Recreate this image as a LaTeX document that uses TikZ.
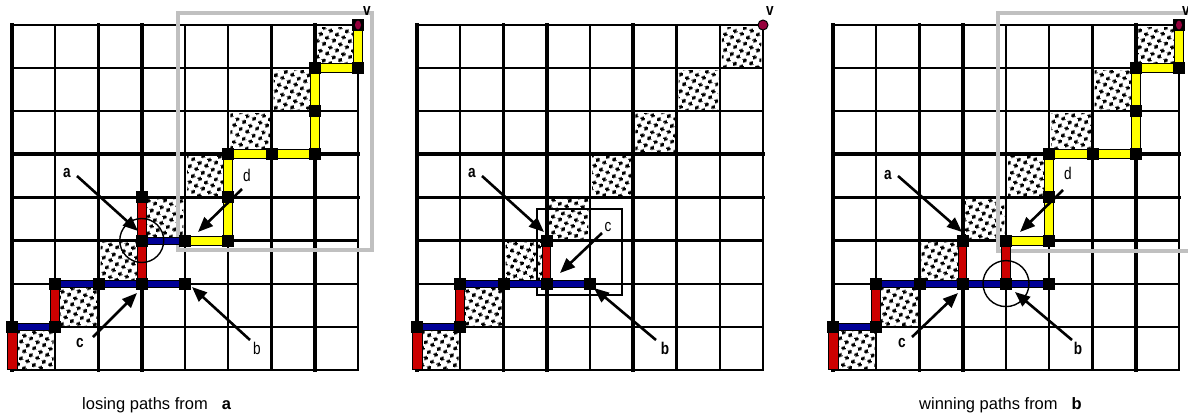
\documentclass[tikz,border=0pt]{standalone}
\usepackage{fontspec}
\setmainfont{Liberation Sans}
\usepackage{graphicx}
\usetikzlibrary{calc,arrows.meta,patterns.meta}

\definecolor{pred}{RGB}{204,0,0}
\definecolor{pblue}{RGB}{0,0,150}
\definecolor{pyel}{RGB}{255,255,0}
\definecolor{pgray}{RGB}{192,192,192}
\definecolor{pdot}{RGB}{150,0,60}

\tikzdeclarepattern{
  name=sqdots,
  type=uncolored,
  bounding box={(0pt,0pt) and (10pt,10pt)},
  tile size={(10pt,10pt)},
  tile transformation={rotate=18},
  code={
    \pgfpathrectangle{\pgfpoint{0.5pt}{0.5pt}}{\pgfpoint{3.8pt}{3.8pt}}
    \pgfpathrectangle{\pgfpoint{5.5pt}{5.5pt}}{\pgfpoint{3.8pt}{3.8pt}}
    \pgfusepath{fill}
  }
}

\tikzset{
  gl/.style={line width=2.2pt, line cap=rect},
  glt/.style={line width=3.8pt, line cap=rect},
  graybox/.style={draw=pgray, line width=4.5pt},
  arr/.style={line width=2.6pt, -{Triangle[length=15pt,width=12pt]}},
  lab/.style={font=\fontsize{17}{17}\selectfont, inner sep=0pt},
  labb/.style={font=\fontsize{17}{17}\selectfont\bfseries, inner sep=0pt},
  ring/.style={draw, line width=1.4pt},
  captext/.style={font=\fontsize{16.5}{17}\selectfont, inner sep=0pt, anchor=base west},
}

\newcommand\drawgrid[4]{%
  \foreach \c in {0,...,8}{\foreach \r in {0,...,8}{%
    \coordinate (#1-\c-\r) at ({#2+\c*43.25},{25+\r*43.1});}}
  \foreach \c in {0,...,7}{\pgfmathtruncatemacro\rr{7-\c}%
    \fill[pattern=sqdots] ($(#1-\c-\rr)+(2,2)$) rectangle ++(39.5,39.5);}
  \foreach \c in {0,...,8}{\draw[gl] (#1-\c-0) -- (#1-\c-8);}
  \foreach \r in {0,...,8}{\draw[gl] (#1-0-\r) -- (#1-8-\r);}
  \foreach \c in {#3}{\draw[glt] (#1-\c-0) -- (#1-\c-8);}
  \foreach \r in {#4}{\draw[glt] (#1-0-\r) -- (#1-8-\r);}
}
\newcommand\vseg[4]{\filldraw[fill=#3,draw=black,line width=0.9pt] ($(#1)+(-#4,0)$) rectangle ($(#2)+(#4,0)$);}
\newcommand\hseg[4]{\filldraw[fill=#3,draw=black,line width=0.9pt] ($(#1)+(0,-#4)$) rectangle ($(#2)+(0,#4)$);}
\newcommand\vsq[1]{\fill (#1) ++(-6,-6) rectangle ++(12,12);}

\begin{document}
\begin{tikzpicture}[x=1pt,y=-1pt]
\useasboundingbox (0,0) rectangle (1188,415);
\fill[white] (0,0) rectangle (1188,415);

% ---------- grids ----------
\drawgrid{g1}{12}{0,2,3,7}{3,4}
\drawgrid{g2}{417}{0,2,3,5}{3,4}
\drawgrid{g3}{833}{0,2,3,7}{3,4}

% ---------- gray boxes ----------
\draw[graybox] (178,13) rectangle (372,250);
\draw[graybox] (998,13) rectangle (1196,251);
\draw[line width=1.4pt] (537,209) rectangle (622,295);

% ---------- grid 1 paths ----------
\vseg{g1-0-7}{g1-0-8}{pred}{5}
\hseg{g1-0-7}{g1-1-7}{pblue}{3.5}
\vseg{g1-1-6}{g1-1-7}{pred}{4.5}
\hseg{g1-1-6}{g1-4-6}{pblue}{3.5}
\vseg{g1-3-4}{g1-3-6}{pred}{4.5}
\hseg{g1-3-5}{g1-4-5}{pblue}{3.5}
\vseg{g1-8-0}{g1-8-1}{pyel}{4.5}
\hseg{g1-7-1}{g1-8-1}{pyel}{4.5}
\vseg{g1-7-1}{g1-7-3}{pyel}{4.5}
\hseg{g1-5-3}{g1-7-3}{pyel}{4.5}
\vseg{g1-5-3}{g1-5-5}{pyel}{4.5}
\hseg{g1-4-5}{g1-5-5}{pyel}{4.5}
\foreach \p in {0-7,1-7,1-6,2-6,3-6,4-6,3-4,3-5,4-5,5-5,5-4,5-3,6-3,7-3,7-2,7-1,8-1,8-0}{\vsq{g1-\p}}
\fill[pdot] (g1-8-0) ellipse (3 and 4.5);

% ---------- grid 2 paths ----------
\vseg{g2-0-7}{g2-0-8}{pred}{5}
\hseg{g2-0-7}{g2-1-7}{pblue}{3.5}
\vseg{g2-1-6}{g2-1-7}{pred}{4.5}
\hseg{g2-1-6}{g2-4-6}{pblue}{3.5}
\vseg{g2-3-5}{g2-3-6}{pred}{4}
\foreach \p in {0-7,1-7,1-6,2-6,3-6,4-6,3-5}{\vsq{g2-\p}}
\filldraw[fill=pdot,draw=black,line width=1pt] (g2-8-0) circle (5);

% ---------- grid 3 paths ----------
\vseg{g3-0-7}{g3-0-8}{pred}{5}
\hseg{g3-0-7}{g3-1-7}{pblue}{3.5}
\vseg{g3-1-6}{g3-1-7}{pred}{4.5}
\hseg{g3-1-6}{g3-5-6}{pblue}{3.5}
\vseg{g3-3-5}{g3-3-6}{pred}{4}
\vseg{g3-4-5}{g3-4-6}{pred}{4.5}
\vseg{g3-8-0}{g3-8-1}{pyel}{4.5}
\hseg{g3-7-1}{g3-8-1}{pyel}{4.5}
\vseg{g3-7-1}{g3-7-3}{pyel}{4.5}
\hseg{g3-5-3}{g3-7-3}{pyel}{4.5}
\vseg{g3-5-3}{g3-5-5}{pyel}{4.5}
\hseg{g3-4-5}{g3-5-5}{pyel}{4.5}
\foreach \p in {0-7,1-7,1-6,2-6,3-6,4-6,5-6,3-5,4-5,5-5,5-4,5-3,6-3,7-3,7-2,7-1,8-1,8-0}{\vsq{g3-\p}}
\fill[pdot] (g3-8-0) ellipse (3 and 4.5);

% ---------- circles ----------
\draw[ring] (g1-3-5) circle (22);
\draw[ring] (g3-4-6) circle (23);

% ---------- labels ----------
\node[labb] (g1a) at (67,173) {\scalebox{0.8}[1]{a}};
\node[labb] (g1c) at (80,343) {\scalebox{0.8}[1]{c}};
\node[lab]  (g1b) at (257,348) {\scalebox{0.8}[1]{b}};
\node[lab]  (g1d) at (247,175) {\scalebox{0.8}[1]{d}};
\node[labb] (g1v) at (367,11) {\scalebox{0.8}[1]{v}};

\node[labb] (g2a) at (472,173) {\scalebox{0.8}[1]{a}};
\node[lab]  (g2c) at (608,227) {\scalebox{0.8}[1]{c}};
\node[labb] (g2b) at (665,348) {\scalebox{0.8}[1]{b}};
\node[labb] (g2v) at (770,11) {\scalebox{0.8}[1]{v}};

\node[labb] (g3a) at (888,175) {\scalebox{0.8}[1]{a}};
\node[labb] (g3c) at (902,343) {\scalebox{0.8}[1]{c}};
\node[labb] (g3b) at (1078,348) {\scalebox{0.8}[1]{b}};
\node[lab]  (g3d) at (1068,173) {\scalebox{0.8}[1]{d}};
\node[labb] (g3v) at (1186,11) {\scalebox{0.8}[1]{v}};

% ---------- arrow endpoints ----------
\coordinate (g1a-s) at (77,176);  \coordinate (g1a-t) at (138,231);
\coordinate (g1c-s) at (93,337);  \coordinate (g1c-t) at (137,293);
\coordinate (g1b-s) at (250,340); \coordinate (g1b-t) at (192,287);
\coordinate (g1d-s) at (242,189); \coordinate (g1d-t) at (198,232);
\coordinate (g2a-s) at (482,176); \coordinate (g2a-t) at (544,232);
\coordinate (g2c-s) at (602,233); \coordinate (g2c-t) at (560,273);
\coordinate (g2b-s) at (656,340); \coordinate (g2b-t) at (594,288);
\coordinate (g3a-s) at (898,176); \coordinate (g3a-t) at (962,232);
\coordinate (g3c-s) at (912,337); \coordinate (g3c-t) at (958,293);
\coordinate (g3b-s) at (1072,340);\coordinate (g3b-t) at (1015,292);
\coordinate (g3d-s) at (1063,190);\coordinate (g3d-t) at (1020,232);

\foreach \a in {g1a,g1c,g1b,g1d,g2a,g2c,g2b,g3a,g3c,g3b,g3d}{\draw[arr] (\a-s) -- (\a-t);}

% ---------- captions ----------
\node[captext] (cap1) at (82,409) {losing paths from\hspace{0.85em}{\bfseries a}};
\node[captext] (cap3) at (919,409) {winning paths from\hspace{0.85em}{\bfseries b}};
\end{tikzpicture}
\end{document}
